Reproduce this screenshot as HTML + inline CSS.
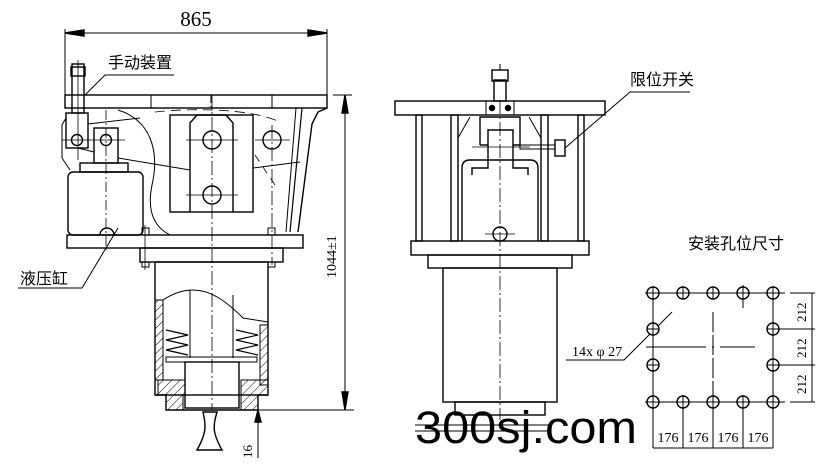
<!DOCTYPE html>
<html><head><meta charset="utf-8"><style>
html,body{margin:0;padding:0;background:#fff}
svg{display:block}
text{font-family:"Liberation Serif","Noto Serif CJK SC",serif;fill:#000}
.cn{font-family:"Liberation Sans","Noto Sans CJK SC",sans-serif}
</style></head><body>
<svg width="827" height="475" viewBox="0 0 827 475" xmlns="http://www.w3.org/2000/svg">
<defs>
<pattern id="h" width="6" height="6" patternUnits="userSpaceOnUse" patternTransform="rotate(45)"><line x1="0" y1="0" x2="0" y2="6" stroke="#000" stroke-width="1"/></pattern>
</defs>
<g fill="none" stroke="#000" stroke-width="1.4">
<line x1="65" y1="33" x2="327" y2="33" stroke-width="1"/>
<polygon points="65,33 84,30 84,36" fill="#000"/>
<polygon points="327,33 308,30 308,36" fill="#000"/>
<line x1="65" y1="29" x2="65" y2="108" stroke-width="1"/>
<line x1="327" y1="29" x2="327" y2="95" stroke-width="1"/>
<rect x="65" y="95" width="262" height="13"/>
<line x1="151" y1="95" x2="151" y2="108" stroke-width="1"/>
<line x1="211" y1="95" x2="211" y2="108" stroke-width="1" stroke-dasharray="8,3"/>
<line x1="272" y1="95" x2="272" y2="108" stroke-width="1"/>
<polyline points="327,108 318,112 312,124 298,232"/>
<polyline points="302,108 290,232" stroke-width="1.2"/>
<line x1="296" y1="108" x2="286" y2="232" stroke-width="1"/>
<rect x="67" y="235" width="236" height="13"/>
<rect x="140" y="248" width="143" height="14"/>
<rect x="155" y="262" width="113" height="133"/>
<polyline points="155,395 166,395 166,410 258,410 258,395 268,395"/>
<path d="M163,300 C175,292 185,290 193,290 C210,290 225,300 243,318 L268,322" stroke-width="1"/>
<rect x="155" y="300" width="8" height="80" fill="url(#h)" stroke-width="1"/>
<rect x="260" y="325" width="8" height="60" fill="url(#h)" stroke-width="1"/>
<rect x="158" y="380" width="27" height="15" fill="url(#h)" stroke-width="1"/>
<rect x="166" y="395" width="17" height="15" fill="url(#h)" stroke-width="1"/>
<rect x="241" y="380" width="27" height="15" fill="url(#h)" stroke-width="1"/>
<rect x="241" y="395" width="17" height="15" fill="url(#h)" stroke-width="1"/>
<rect x="185" y="362" width="54" height="46"/>
<line x1="190" y1="290" x2="190" y2="358" stroke-width="1"/>
<line x1="233" y1="295" x2="233" y2="358" stroke-width="1"/>
<rect x="166" y="357" width="91" height="5" stroke-width="1"/>
<polyline points="166,330 188,335 166,340 188,345 166,350 188,355" stroke-width="1.2"/>
<polyline points="236,330 258,335 236,340 258,345 236,350 258,355" stroke-width="1.2"/>
<path d="M203,412 L217,412 C213,425 212,432 222,450 L197,450 C207,432 206,425 203,412 Z"/>
<line x1="333" y1="95" x2="352" y2="95" stroke-width="1"/>
<line x1="345" y1="95" x2="345" y2="410" stroke-width="1"/>
<polygon points="345,95 342,113 348,113" fill="#000"/>
<polygon points="345,410 342,392 348,392" fill="#000"/>
<line x1="258" y1="410" x2="354" y2="410" stroke-width="1"/>
<line x1="258" y1="398" x2="258" y2="458" stroke-width="1"/>
<polygon points="258,410 255,422 261,422" fill="#000"/>
<rect x="68" y="172" width="75" height="63" rx="5"/>
<rect x="80" y="163" width="48" height="9"/>
<rect x="94" y="128" width="24" height="35"/>
<rect x="66" y="113" width="22" height="35"/>
<circle cx="106" cy="140" r="5.5"/>
<circle cx="77" cy="140" r="5.5"/>
<line x1="62" y1="140" x2="125" y2="140" stroke-width="0.8"/>
<polyline points="66,118 62,125 62,158 70,170" stroke-width="1"/>
<line x1="88" y1="124" x2="140" y2="118" stroke-width="1"/>
<line x1="118" y1="158" x2="190" y2="170" stroke-width="1"/>
<line x1="78" y1="148" x2="94" y2="152" stroke-width="1"/>
<rect x="72" y="64" width="12" height="49"/>
<rect x="71" y="67" width="14" height="9"/>
<line x1="78" y1="60" x2="78" y2="160" stroke-width="0.8"/>
<line x1="106" y1="110" x2="106" y2="250" stroke-width="0.8" stroke-dasharray="10,3,2,3"/>
<path d="M100,235 A7,7 0 0 1 114,235" />
<path d="M118,110 C150,120 160,150 152,185 C148,205 150,225 170,235" stroke-width="1"/>
<rect x="170" y="115" width="83" height="97"/>
<path d="M190,212 L190,123 L197,115 L226,115 L233,123 L233,212"/>
<circle cx="212" cy="140" r="9"/>
<circle cx="212" cy="195" r="9"/>
<circle cx="272" cy="140" r="9"/>
<line x1="186" y1="140" x2="238" y2="140" stroke-width="0.8"/>
<line x1="186" y1="195" x2="238" y2="195" stroke-width="0.8"/>
<line x1="255" y1="140" x2="290" y2="140" stroke-width="0.8"/>
<line x1="212" y1="95" x2="212" y2="410" stroke-width="0.8" stroke-dasharray="14,3,2,3"/>
<line x1="272" y1="125" x2="272" y2="265" stroke-width="0.8" stroke-dasharray="14,3,2,3"/>
<line x1="145" y1="225" x2="145" y2="270" stroke-width="0.8"/>
<path d="M155,112 C190,108 250,108 280,122" stroke-width="0.8" stroke-dasharray="10,6"/>
<line x1="253" y1="168" x2="300" y2="162" stroke-width="1"/>
<line x1="255" y1="155" x2="275" y2="185" stroke-width="0.8" stroke-dasharray="8,6"/>
<rect x="142" y="228" width="7" height="7" stroke-width="1"/>
<rect x="268" y="228" width="7" height="7" stroke-width="1"/>
<rect x="142" y="262" width="7" height="5" stroke-width="1"/>
<rect x="268" y="262" width="7" height="5" stroke-width="1"/>
<polyline points="174,75 105,75 85,95" stroke-width="1"/>
<polyline points="18,288 82,288 118,228" stroke-width="1"/>

<rect x="395" y="101" width="210" height="14"/>
<rect x="416" y="115" width="6" height="126"/>
<rect x="451" y="115" width="7" height="126"/>
<rect x="541" y="115" width="7" height="126"/>
<rect x="578" y="115" width="6" height="126"/>
<line x1="458" y1="138" x2="470" y2="117" stroke-width="1"/>
<line x1="541" y1="138" x2="529" y2="117" stroke-width="1"/>
<path d="M462,241 L462,168 Q462,160 470,160 L530,160 Q538,160 538,168 L538,241"/>
<polyline points="472,175 472,168 488,168 488,130 513,130 513,168 528,168 528,175"/>
<polyline points="480,145 480,117 520,117 520,145 513,145"/>
<line x1="480" y1="145" x2="488" y2="145"/>
<rect x="486" y="101" width="28" height="14" stroke-width="1"/>
<circle cx="492" cy="108" r="2.5" fill="#000"/>
<circle cx="508" cy="108" r="2.5" fill="#000"/>
<rect x="494" y="80" width="12" height="21"/>
<rect x="492" y="70" width="16" height="11"/>
<line x1="500" y1="64" x2="500" y2="70" stroke-width="1"/>
<rect x="520" y="145" width="35" height="4" stroke-width="1"/>
<rect x="555" y="140" width="10" height="16"/>
<circle cx="500" cy="234" r="7"/>
<line x1="485" y1="234" x2="515" y2="234" stroke-width="0.8"/>
<line x1="472" y1="147" x2="530" y2="147" stroke-width="0.8"/>
<line x1="500" y1="100" x2="500" y2="420" stroke-width="0.8" stroke-dasharray="14,3,2,3"/>
<rect x="411" y="241" width="178" height="14"/>
<rect x="428" y="255" width="144" height="13"/>
<rect x="443" y="268" width="114" height="134"/>
<rect x="455" y="402" width="90" height="13"/>
<line x1="415" y1="425" x2="550" y2="425" stroke-width="1"/>
<line x1="415" y1="431" x2="550" y2="431" stroke-width="1"/>
<polyline points="690,92 630,92 565,148" stroke-width="1"/>

<g stroke-width="1">
<line x1="645" y1="293" x2="785" y2="293"/>
<line x1="645" y1="402" x2="785" y2="402"/>
<line x1="653" y1="293" x2="653" y2="448"/>
<line x1="773" y1="293" x2="773" y2="448"/>
<line x1="683" y1="395" x2="683" y2="448"/>
<line x1="713" y1="395" x2="713" y2="448"/>
<line x1="743" y1="395" x2="743" y2="448"/>
<line x1="743" y1="285" x2="743" y2="308"/>
<line x1="713" y1="312" x2="713" y2="400" stroke-dasharray="20,3"/>
<line x1="646" y1="347" x2="755" y2="347" stroke-dasharray="60,6,2,6"/>
<line x1="653" y1="448" x2="773" y2="448"/>
<line x1="790" y1="293" x2="815" y2="293"/>
<line x1="773" y1="329" x2="815" y2="329"/>
<line x1="773" y1="365" x2="815" y2="365"/>
<line x1="790" y1="402" x2="815" y2="402"/>
<line x1="812" y1="293" x2="812" y2="402"/>
<polyline points="566,360 624,360 672,312"/>
</g>
<g fill="#fff">
<circle cx="653" cy="293" r="6"/><circle cx="683" cy="293" r="6"/><circle cx="713" cy="293" r="6"/><circle cx="743" cy="293" r="6"/><circle cx="773" cy="293" r="6"/>
<circle cx="653" cy="402" r="6"/><circle cx="683" cy="402" r="6"/><circle cx="713" cy="402" r="6"/><circle cx="743" cy="402" r="6"/><circle cx="773" cy="402" r="6"/>
<circle cx="653" cy="329" r="6"/><circle cx="653" cy="365" r="6"/><circle cx="773" cy="329" r="6"/><circle cx="773" cy="365" r="6"/>
</g>
<g stroke-width="1">
<path d="M647,293h12M653,287v12M677,293h12M683,287v12M707,293h12M713,287v12M737,293h12M743,287v12M767,293h12M773,287v12"/>
<path d="M647,402h12M653,396v12M677,402h12M683,396v12M707,402h12M713,396v12M737,402h12M743,396v12M767,402h12M773,396v12"/>
<path d="M647,329h12M653,323v12M647,365h12M653,359v12M767,329h12M773,323v12M767,365h12M773,359v12"/>
</g>
</g>

<text x="196" y="26" font-size="21" text-anchor="middle">865</text>
<text class="cn" x="108" y="68" font-size="16">手动装置</text>
<text class="cn" x="20" y="284" font-size="16">液压缸</text>
<text x="0" y="0" font-size="14" transform="translate(336,278) rotate(-90)">1044±1</text>
<text x="0" y="0" font-size="13" transform="translate(252,458) rotate(-90)">16</text>
<text class="cn" x="630" y="85" font-size="16">限位开关</text>
<text class="cn" x="688" y="249" font-size="16">安装孔位尺寸</text>
<text x="572" y="356" font-size="14">14x φ 27</text>
<text x="0" y="0" font-size="13" transform="translate(806,322) rotate(-90)">212</text>
<text x="0" y="0" font-size="13" transform="translate(806,358) rotate(-90)">212</text>
<text x="0" y="0" font-size="13" transform="translate(806,394) rotate(-90)">212</text>
<text x="668" y="442" font-size="14" text-anchor="middle">176</text>
<text x="698" y="442" font-size="14" text-anchor="middle">176</text>
<text x="728" y="442" font-size="14" text-anchor="middle">176</text>
<text x="758" y="442" font-size="14" text-anchor="middle">176</text>
<text x="415" y="443" font-size="45" textLength="222" lengthAdjust="spacingAndGlyphs" style="font-family:'Liberation Sans',sans-serif">300sj.com</text>
</svg>
</body></html>
